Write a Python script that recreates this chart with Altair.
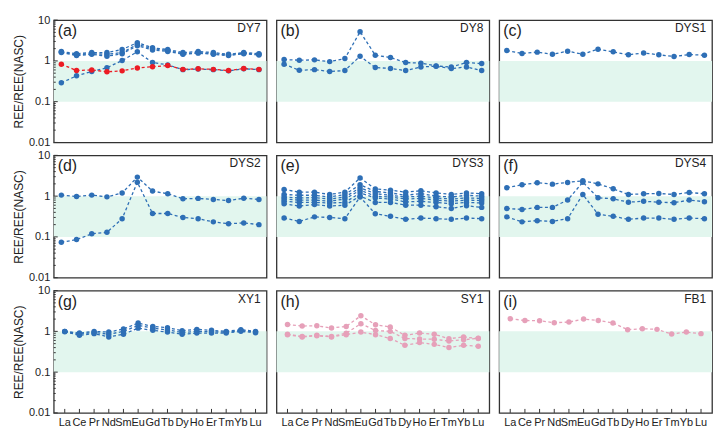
import altair as alt
import pandas as pd

elements = ["La", "Ce", "Pr", "Nd", "Sm", "Eu", "Gd", "Tb", "Dy", "Ho", "Er", "Tm", "Yb", "Lu"]

# (a) DY7
a_blue1 = [1.70, 1.50, 1.60, 1.60, 1.90, 2.80, 2.10, 1.90, 1.60, 1.70, 1.60, 1.45, 1.60, 1.50]
a_blue2 = [1.65, 1.40, 1.50, 1.45, 1.60, 2.55, 2.00, 1.80, 1.50, 1.60, 1.50, 1.40, 1.55, 1.45]
a_blue3 = [1.60, 1.35, 1.45, 1.30, 1.50, 2.35, 1.85, 1.70, 1.45, 1.55, 1.45, 1.35, 1.50, 1.40]
a_blue4 = [0.29, 0.43, 0.55, 0.68, 1.02, 1.67, 0.91, 0.80, 0.61, 0.63, 0.61, 0.57, 0.64, 0.61]
a_red = [0.83, 0.58, 0.60, 0.54, 0.57, 0.67, 0.72, 0.77, 0.62, 0.64, 0.62, 0.58, 0.65, 0.62]
# (b) DY8
b1 = [1.08, 1.04, 1.06, 0.96, 1.14, 5.20, 1.38, 1.21, 0.91, 0.88, 0.75, 0.71, 0.91, 0.86]
b2 = [0.83, 0.59, 0.61, 0.55, 0.58, 1.30, 0.69, 0.65, 0.58, 0.71, 0.74, 0.65, 0.71, 0.58]
# (c) DYS1
c1 = [1.80, 1.52, 1.64, 1.46, 1.73, 1.46, 1.94, 1.67, 1.41, 1.57, 1.41, 1.28, 1.43, 1.38]
# (d) DYS2
d1 = [1.06, 0.98, 1.06, 0.96, 1.19, 2.93, 1.33, 1.14, 0.86, 0.88, 0.83, 0.78, 0.89, 0.83]
d2 = [0.074, 0.086, 0.119, 0.13, 0.28, 2.20, 0.375, 0.375, 0.30, 0.28, 0.234, 0.21, 0.22, 0.20]
# (e) DYS3
e1 = [1.45, 1.25, 1.25, 1.10, 1.25, 2.80, 1.50, 1.40, 1.25, 1.35, 1.20, 1.10, 1.20, 1.15]
e2 = [1.10, 1.05, 1.05, 0.95, 1.10, 1.90, 1.30, 1.20, 1.05, 1.15, 1.00, 0.95, 1.05, 1.00]
e3 = [0.95, 0.90, 0.92, 0.85, 0.95, 1.60, 1.15, 1.05, 0.95, 1.00, 0.90, 0.85, 0.90, 0.88]
e4 = [0.85, 0.80, 0.80, 0.75, 0.85, 1.40, 1.00, 0.95, 0.85, 0.88, 0.80, 0.75, 0.80, 0.78]
e5 = [0.75, 0.70, 0.70, 0.68, 0.70, 1.20, 0.90, 0.85, 0.72, 0.75, 0.70, 0.65, 0.70, 0.68]
e6 = [0.65, 0.57, 0.62, 0.57, 0.60, 1.00, 0.70, 0.70, 0.60, 0.60, 0.55, 0.50, 0.58, 0.53]
e7 = [0.29, 0.24, 0.31, 0.30, 0.28, 0.95, 0.37, 0.32, 0.27, 0.29, 0.28, 0.27, 0.29, 0.28]
# (f) DYS4
f1 = [1.60, 1.90, 2.13, 1.97, 2.17, 2.38, 2.00, 1.51, 1.10, 1.14, 1.16, 1.10, 1.23, 1.14]
f2 = [0.50, 0.47, 0.53, 0.53, 0.80, 2.20, 0.91, 0.86, 0.71, 0.75, 0.71, 0.69, 0.80, 0.73]
f3 = [0.31, 0.234, 0.25, 0.24, 0.28, 1.10, 0.36, 0.32, 0.27, 0.29, 0.29, 0.27, 0.29, 0.28]
# (g) XY1
g1 = [1.00, 0.91, 1.00, 0.96, 1.14, 1.60, 1.32, 1.23, 1.04, 1.12, 1.06, 1.00, 1.10, 1.00]
g2 = [0.98, 0.80, 0.88, 0.73, 0.85, 1.20, 1.06, 0.96, 0.85, 0.91, 0.91, 0.91, 1.00, 0.93]
g3 = [1.00, 0.86, 0.94, 0.85, 1.00, 1.40, 1.20, 1.08, 0.94, 1.00, 0.98, 0.95, 1.05, 0.97]
# (h) SY1
h1 = [1.48, 1.35, 1.37, 1.21, 1.32, 2.41, 1.45, 1.28, 0.80, 0.91, 0.85, 0.66, 0.73, 0.67]
h2 = [0.85, 0.75, 0.80, 0.75, 0.90, 1.54, 1.05, 1.00, 0.67, 0.65, 0.64, 0.58, 0.62, 0.68]
h3 = [0.83, 0.73, 0.78, 0.73, 0.83, 0.96, 0.83, 0.67, 0.455, 0.53, 0.48, 0.40, 0.455, 0.43]
# (i) FB1
i1 = [2.04, 1.85, 1.82, 1.63, 1.69, 2.00, 1.85, 1.60, 1.10, 1.16, 1.12, 0.86, 0.96, 0.88]

y_major = [0.01, 0.1, 1, 10]
y_minor = [m * d for d in (0.01, 0.1, 1) for m in range(2, 10)]
band_lo = [0.1]
band_hi = [1.0]

BLUE = "#2e6fb6"
RED = "#ec1c24"
PINK = "#e6a0b9"
BAND = "#e2f6ee"
FRAME = "#333333"

panels = [
    ("(a)", "DY7", [(a_blue1, BLUE), (a_blue2, BLUE), (a_blue3, BLUE), (a_blue4, BLUE), (a_red, RED)]),
    ("(b)", "DY8", [(b1, BLUE), (b2, BLUE)]),
    ("(c)", "DYS1", [(c1, BLUE)]),
    ("(d)", "DYS2", [(d1, BLUE), (d2, BLUE)]),
    ("(e)", "DYS3", [(e1, BLUE), (e2, BLUE), (e3, BLUE), (e4, BLUE), (e5, BLUE), (e6, BLUE), (e7, BLUE)]),
    ("(f)", "DYS4", [(f1, BLUE), (f2, BLUE), (f3, BLUE)]),
    ("(g)", "XY1", [(g1, BLUE), (g2, BLUE), (g3, BLUE)]),
    ("(h)", "SY1", [(h1, PINK), (h2, PINK), (h3, PINK)]),
    ("(i)", "FB1", [(i1, PINK)]),
]

W = 214
H = 123


def make_panel(letter, name, series, show_y, show_x):
    rows = []
    for k, (vals, col) in enumerate(series):
        for el, v in zip(elements, vals):
            rows.append({"el": el, "v": v, "s": k, "c": col})
    df = pd.DataFrame(rows)

    yscale = alt.Scale(type="log", domain=[0.01, 10])
    xscale = alt.Scale(domain=elements, padding=0.5)
    if show_y:
        yaxis = alt.Axis(values=y_major, labelExpr="toString(datum.value)", ticks=False,
                         domain=False, grid=False, labelPadding=4, labelFontSize=11,
                         title="REE/REE(NASC)", titleFontSize=12, titleFontWeight="normal",
                         titlePadding=3, labelColor="#222", titleColor="#222")
    else:
        yaxis = None
    if show_x:
        xaxis = alt.Axis(ticks=False, domain=False, grid=False, labelAngle=0, labelPadding=4,
                         labelFontSize=11, labelOverlap=False, title=None, labelColor="#222")
    else:
        xaxis = None

    band = alt.Chart(pd.DataFrame({"lo": band_lo, "hi": band_hi})).mark_rect(color=BAND).encode(
        y=alt.Y("lo:Q", scale=yscale, axis=yaxis),
        y2="hi:Q",
        x=alt.value(0),
        x2=alt.value(W),
    )
    lines = alt.Chart(df).mark_line(strokeDash=[3, 2.5], strokeWidth=1.3).encode(
        x=alt.X("el:N", sort=elements, scale=xscale, axis=xaxis),
        y=alt.Y("v:Q", scale=yscale, axis=yaxis),
        detail="s:N",
        color=alt.Color("c:N", scale=None),
    )
    points = alt.Chart(df).mark_circle(size=30, opacity=1).encode(
        x=alt.X("el:N", sort=elements, scale=xscale, axis=xaxis),
        y=alt.Y("v:Q", scale=yscale, axis=yaxis),
        color=alt.Color("c:N", scale=None),
    )
    layers = [band, lines, points]
    if show_y:
        maj = alt.Chart(pd.DataFrame({"t": y_major})).mark_rule(color=FRAME, strokeWidth=1).encode(
            y=alt.Y("t:Q", scale=yscale, axis=yaxis), x=alt.value(0), x2=alt.value(4))
        mnr = alt.Chart(pd.DataFrame({"t": y_minor})).mark_rule(color=FRAME, strokeWidth=1).encode(
            y=alt.Y("t:Q", scale=yscale, axis=yaxis), x=alt.value(0), x2=alt.value(2))
        layers += [maj, mnr]
    if show_x:
        xt = alt.Chart(pd.DataFrame({"el": elements})).mark_rule(color=FRAME, strokeWidth=1).encode(
            x=alt.X("el:N", sort=elements, scale=xscale, axis=xaxis), y=alt.value(H), y2=alt.value(H - 4))
        layers.append(xt)
    t1 = alt.Chart(pd.DataFrame({"t": [letter]})).mark_text(
        align="left", baseline="middle", fontSize=16, color="#222").encode(
        text="t:N", x=alt.value(4), y=alt.value(11))
    t2 = alt.Chart(pd.DataFrame({"t": [name]})).mark_text(
        align="right", baseline="middle", fontSize=12, color="#222").encode(
        text="t:N", x=alt.value(W - 6), y=alt.value(8))
    layers += [t1, t2]
    return alt.layer(*layers).properties(width=W, height=H)


rows_charts = []
for r in range(3):
    row = []
    for c in range(3):
        letter, name, series = panels[r * 3 + c]
        row.append(make_panel(letter, name, series, show_y=(c == 0), show_x=(r == 2)))
    rows_charts.append(alt.hconcat(*row, spacing=8))

chart = alt.vconcat(*rows_charts, spacing=0).properties(
    padding={"left": 3, "top": 4, "right": 3, "bottom": 2}
).configure(font="Liberation Sans").configure_view(stroke=FRAME, strokeWidth=1.3)

chart.save("out.html", embed_options={"renderer": "svg", "actions": False})
